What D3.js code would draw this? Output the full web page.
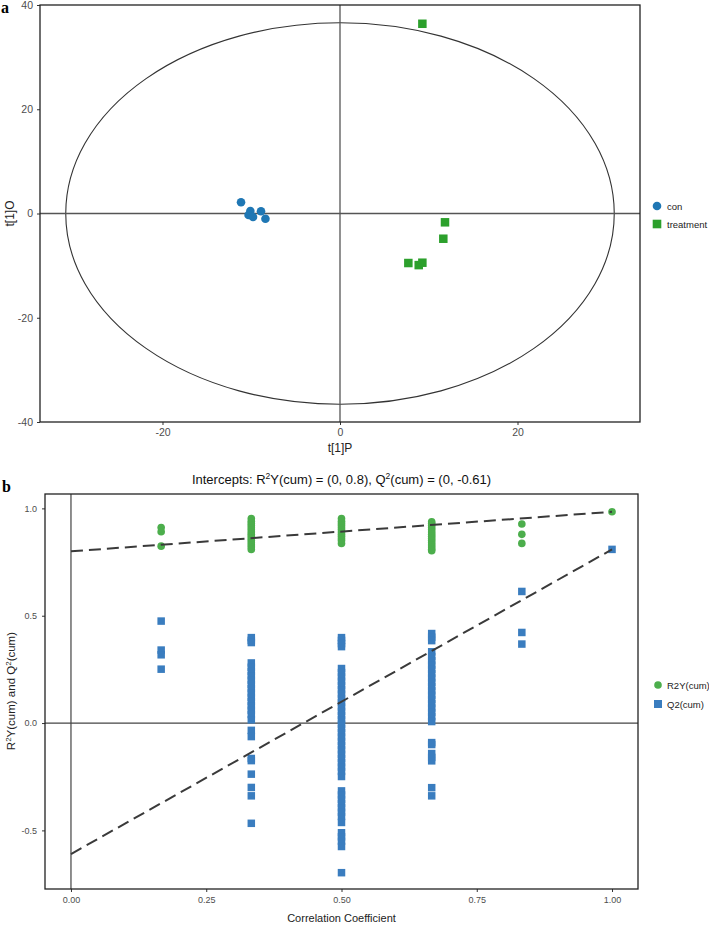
<!DOCTYPE html>
<html>
<head>
<meta charset="utf-8">
<script src="https://cdn.jsdelivr.net/npm/d3@7"></script>
<style>
  body { margin: 0; background: #fff; }
  svg { display: block; font-family: "Liberation Sans", Arial, sans-serif; }
</style>
</head>
<body>
<svg id="chart" width="709" height="925"></svg>
<script>
// ---------- Panel a data (OPLS-DA scores) ----------
const groups = ["con", "treatment"];
const conT1P = [-11.15, -10.1, -10.3, -9.8, -8.9, -8.4];
const conT1O = [2.15, 0.48, -0.29, -0.67, 0.42, -1.0];
const trtT1P = [11.83, 11.64, 7.7, 8.87, 9.28, 9.28];
const trtT1O = [-1.69, -4.84, -9.5, -9.9, -9.44, 36.4];
const ellipseRadii = [30.9, 36.6];
const topXTicks = [-20, 0, 20];
const topYTicks = [-40, -20, 0, 20, 40];

// ---------- Panel b data (permutation test) ----------
const permX = [0.1667, 0.3333, 0.5, 0.6667, 0.8333, 1.0];
const r2yCol1 = [0.911, 0.891, 0.824];
const r2yCol2 = [0.953, 0.94, 0.93, 0.92, 0.91, 0.90, 0.89, 0.88, 0.87, 0.86, 0.85, 0.84, 0.83, 0.82, 0.809];
const r2yCol3 = [0.953, 0.94, 0.93, 0.92, 0.91, 0.90, 0.89, 0.88, 0.87, 0.86, 0.85, 0.837];
const r2yCol4 = [0.938, 0.93, 0.92, 0.91, 0.90, 0.89, 0.88, 0.87, 0.86, 0.85, 0.84, 0.83, 0.82, 0.81, 0.803];
const r2yCol5 = [0.927, 0.879, 0.837];
const r2yCol6 = [0.984];
const q2Col1 = [0.475, 0.34, 0.318, 0.251];
const q2Col2 = [0.398, 0.385, 0.375, 0.28, 0.26, 0.24, 0.22, 0.20, 0.18, 0.16, 0.14, 0.12, 0.10, 0.08, 0.06, 0.04, 0.015,
                -0.034, -0.063, -0.165, -0.175, -0.238, -0.300, -0.339, -0.467];
const q2Col3 = [0.398, 0.385, 0.370, 0.356, 0.254, 0.235, 0.215, 0.195, 0.175, 0.155, 0.135, 0.115, 0.095, 0.075, 0.055,
                0.035, 0.015, -0.005, -0.025, -0.045, -0.065, -0.085, -0.105, -0.125, -0.145, -0.165, -0.185, -0.205,
                -0.225, -0.249, -0.316, -0.335, -0.355, -0.375, -0.395, -0.415, -0.435, -0.463, -0.511, -0.53, -0.55,
                -0.575, -0.697];
const q2Col4 = [0.417, 0.40, 0.384, 0.332, 0.31, 0.29, 0.27, 0.25, 0.23, 0.21, 0.19, 0.17, 0.15, 0.13, 0.11, 0.09, 0.07,
                0.05, 0.03, 0.007, -0.091, -0.10, -0.142, -0.16, -0.176, -0.301, -0.339];
const q2Col5 = [0.613, 0.422, 0.368];
const q2Col6 = [0.809];
const r2yCols = [r2yCol1, r2yCol2, r2yCol3, r2yCol4, r2yCol5, r2yCol6];
const q2Cols = [q2Col1, q2Col2, q2Col3, q2Col4, q2Col5, q2Col6];
const r2yLine = [[0, 0.8], [1, 0.984]];
const q2Line = [[0, -0.61], [1, 0.809]];
const botXTicks = [0, 0.25, 0.5, 0.75, 1.0];
const botYTicks = [-0.5, 0, 0.5, 1.0];
const botSeries = ["R2Y(cum)", "Q2(cum)"];

const svg = d3.select("#chart");

// ================= Panel a =================
const xT = d3.scaleLinear().domain([-33.8, 33.8]).range([40, 640]);
const yT = d3.scaleLinear().domain([-40, 40]).range([422, 5]);
const gA = svg.append("g");

gA.append("text").attr("x", 1).attr("y", 13).text("a")
  .attr("font-family", "Liberation Serif, Times New Roman, serif").attr("font-weight", "bold").attr("font-size", 16);

// ellipse
gA.append("ellipse")
  .attr("cx", xT(0)).attr("cy", yT(0))
  .attr("rx", xT(ellipseRadii[0]) - xT(0)).attr("ry", yT(0) - yT(ellipseRadii[1]))
  .attr("fill", "none").attr("stroke", "#333").attr("stroke-width", 1.1);

// zero lines
gA.append("line").attr("x1", xT(0)).attr("x2", xT(0)).attr("y1", yT.range()[1]).attr("y2", yT.range()[0])
  .attr("stroke", "#555").attr("stroke-width", 1.3);
gA.append("line").attr("x1", xT.range()[0]).attr("x2", xT.range()[1]).attr("y1", yT(0)).attr("y2", yT(0))
  .attr("stroke", "#555").attr("stroke-width", 1.3);

// axes
const axLT = gA.append("g").attr("transform", `translate(${xT.range()[0]},0)`)
  .call(d3.axisLeft(yT).tickValues(topYTicks).tickSize(3).tickPadding(4).tickFormat(d => String(d)));
const axBT = gA.append("g").attr("transform", `translate(0,${yT.range()[0]})`)
  .call(d3.axisBottom(xT).tickValues(topXTicks).tickSize(3).tickPadding(4).tickFormat(d => String(d)));
[axLT, axBT].forEach(a => {
  a.select(".domain").remove();
  a.selectAll("line").attr("stroke", "#333");
  a.selectAll("text").attr("font-size", 10.5).attr("fill", "#4d4d4d").attr("font-family", "Liberation Sans, Arial, sans-serif");
});

// border
gA.append("rect").attr("x", xT.range()[0]).attr("y", yT.range()[1])
  .attr("width", xT.range()[1] - xT.range()[0]).attr("height", yT.range()[0] - yT.range()[1])
  .attr("fill", "none").attr("stroke", "#222").attr("stroke-width", 1.3);

// points
const conPts = conT1P.map((v, i) => [v, conT1O[i]]);
const trtPts = trtT1P.map((v, i) => [v, trtT1O[i]]);
gA.selectAll("circle.con").data(conPts).join("circle").attr("class", "con")
  .attr("cx", d => xT(d[0])).attr("cy", d => yT(d[1])).attr("r", 4.3).attr("fill", "#1f77b4");
const sqT = 8.5;
gA.selectAll("rect.trt").data(trtPts).join("rect").attr("class", "trt")
  .attr("x", d => xT(d[0]) - sqT / 2).attr("y", d => yT(d[1]) - sqT / 2)
  .attr("width", sqT).attr("height", sqT).attr("fill", "#2ca02c");

// titles
gA.append("text").attr("x", (xT.range()[0] + xT.range()[1]) / 2).attr("y", 452).attr("text-anchor", "middle")
  .attr("font-size", 12).attr("fill", "#222").text("t[1]P");
gA.append("text").attr("transform", `translate(14,${yT(0)}) rotate(-90)`).attr("text-anchor", "middle")
  .attr("font-size", 12).attr("fill", "#222").text("t[1]O");

// legend
const legA = gA.append("g");
legA.append("circle").attr("cx", 657).attr("cy", 206).attr("r", 4.3).attr("fill", "#1f77b4");
legA.append("rect").attr("x", 657 - 4.3).attr("y", 224 - 4.3).attr("width", 8.6).attr("height", 8.6).attr("fill", "#2ca02c");
legA.selectAll("text").data(groups).join("text").attr("x", 667).attr("y", (d, i) => 209.5 + i * 18)
  .attr("font-size", 9.5).attr("fill", "#222").text(d => d);

// ================= Panel b =================
const xB = d3.scaleLinear().domain([-0.048, 1.048]).range([45, 638]);
const yB = d3.scaleLinear().domain([-0.773, 1.067]).range([889, 494]);
const gB = svg.append("g");

gB.append("text").attr("x", 2).attr("y", 492).text("b")
  .attr("font-family", "Liberation Serif, Times New Roman, serif").attr("font-weight", "bold").attr("font-size", 16);

const title = gB.append("text").attr("x", (xB.range()[0] + xB.range()[1]) / 2).attr("y", 484)
  .attr("text-anchor", "middle").attr("font-size", 13).attr("fill", "#111");
title.append("tspan").text("Intercepts: R");
title.append("tspan").attr("dy", -5).attr("font-size", 8.5).text("2");
title.append("tspan").attr("dy", 5).text("Y(cum) = (0, 0.8), Q");
title.append("tspan").attr("dy", -5).attr("font-size", 8.5).text("2");
title.append("tspan").attr("dy", 5).text("(cum) = (0, -0.61)");

// zero lines
gB.append("line").attr("x1", xB(0)).attr("x2", xB(0)).attr("y1", yB.range()[1]).attr("y2", yB.range()[0])
  .attr("stroke", "#444").attr("stroke-width", 1.2);
gB.append("line").attr("x1", xB.range()[0]).attr("x2", xB.range()[1]).attr("y1", yB(0)).attr("y2", yB(0))
  .attr("stroke", "#444").attr("stroke-width", 1.2);

// axes
const axLB = gB.append("g").attr("transform", `translate(${xB.range()[0]},0)`)
  .call(d3.axisLeft(yB).tickValues(botYTicks).tickSize(3).tickPadding(5).tickFormat(d => d.toFixed(1)));
const axBB = gB.append("g").attr("transform", `translate(0,${yB.range()[0]})`)
  .call(d3.axisBottom(xB).tickValues(botXTicks).tickSize(3).tickPadding(5).tickFormat(d => d.toFixed(2)));
[axLB, axBB].forEach(a => {
  a.select(".domain").remove();
  a.selectAll("line").attr("stroke", "#333");
  a.selectAll("text").attr("font-size", 9).attr("fill", "#4d4d4d");
});

// points
const r2yPts = [];
r2yCols.forEach((col, i) => col.forEach(v => r2yPts.push([permX[i], v])));
const q2Pts = [];
q2Cols.forEach((col, i) => col.forEach(v => q2Pts.push([permX[i], v])));
const sqB = 7.5;
gB.selectAll("rect.q2").data(q2Pts).join("rect").attr("class", "q2")
  .attr("x", d => xB(d[0]) - sqB / 2).attr("y", d => yB(d[1]) - sqB / 2)
  .attr("width", sqB).attr("height", sqB).attr("fill", "#3a7dbf");
gB.selectAll("circle.r2y").data(r2yPts).join("circle").attr("class", "r2y")
  .attr("cx", d => xB(d[0])).attr("cy", d => yB(d[1])).attr("r", 3.8).attr("fill", "#4cae4c");

// regression lines
const lineGen = d3.line().x(d => xB(d[0])).y(d => yB(d[1]));
[r2yLine, q2Line].forEach(l => {
  gB.append("path").attr("d", lineGen(l)).attr("fill", "none").attr("stroke", "#3a3a3a")
    .attr("stroke-width", 2).attr("stroke-dasharray", "12,6");
});

// border
gB.append("rect").attr("x", xB.range()[0]).attr("y", yB.range()[1])
  .attr("width", xB.range()[1] - xB.range()[0]).attr("height", yB.range()[0] - yB.range()[1])
  .attr("fill", "none").attr("stroke", "#222").attr("stroke-width", 1.3);

// axis titles
gB.append("text").attr("x", (xB.range()[0] + xB.range()[1]) / 2).attr("y", 922).attr("text-anchor", "middle")
  .attr("font-size", 11).attr("fill", "#222").text("Correlation Coefficient");
const yTitle = gB.append("text").attr("transform", `translate(15,${yB(0) - 32}) rotate(-90)`).attr("text-anchor", "middle")
  .attr("font-size", 11.5).attr("fill", "#222");
yTitle.append("tspan").text("R");
yTitle.append("tspan").attr("dy", -4).attr("font-size", 8).text("2");
yTitle.append("tspan").attr("dy", 4).text("Y(cum) and Q");
yTitle.append("tspan").attr("dy", -4).attr("font-size", 8).text("2");
yTitle.append("tspan").attr("dy", 4).text("(cum)");

// legend
const legB = gB.append("g");
legB.append("circle").attr("cx", 658).attr("cy", 685).attr("r", 3.8).attr("fill", "#4cae4c");
legB.append("rect").attr("x", 658 - 4).attr("y", 704 - 4).attr("width", 8).attr("height", 8).attr("fill", "#3a7dbf");
legB.selectAll("text").data(botSeries).join("text").attr("x", 667).attr("y", (d, i) => 688.5 + i * 19)
  .attr("font-size", 9.5).attr("fill", "#222").text(d => d);
</script>
</body>
</html>
